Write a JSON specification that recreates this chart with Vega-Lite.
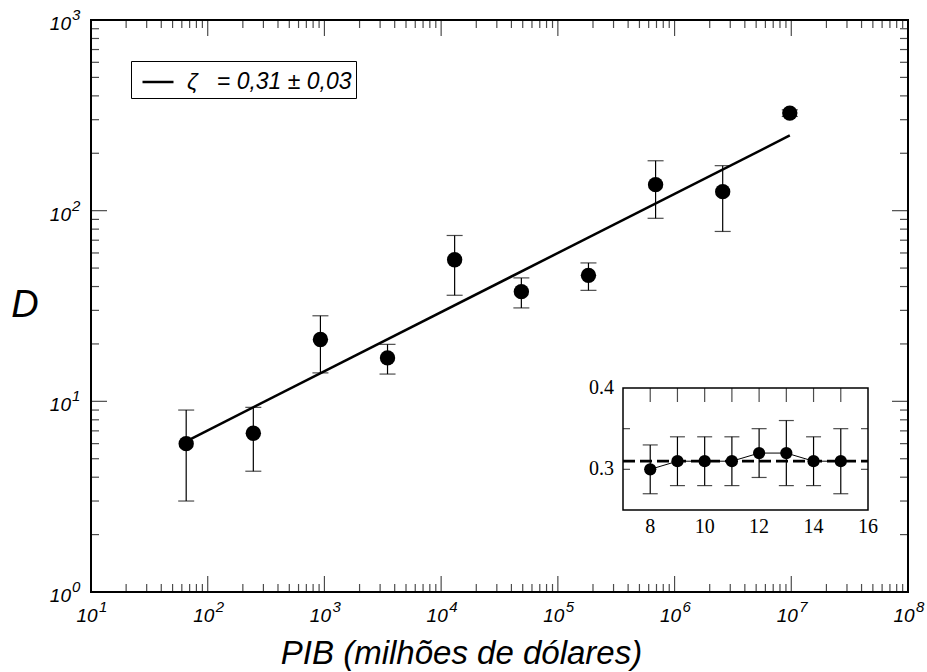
{
  "$schema": "https://vega.github.io/schema/vega-lite/v6.json",
  "width": 817,
  "height": 572,
  "autosize": "none",
  "padding": {"left": 91, "top": 20, "right": 19, "bottom": 80},
  "background": "white",
  "title": {
    "text": "PIB (milhões de dólares)", "orient": "bottom", "anchor": "middle", "frame": "group",
    "font": "Liberation Sans", "fontStyle": "italic", "fontWeight": "normal", "fontSize": 33, "color": "black",
    "baseline": "middle", "offset": 28, "dx": -38
  },
  "config": {
    "view": {"stroke": "black", "strokeWidth": 2}
  },
  "datasets": {
    "main": [
      {"x": 65.4, "y": 6.0, "lo": 3.0, "hi": 9.0},
      {"x": 245.9, "y": 6.8, "lo": 4.3, "hi": 9.3},
      {"x": 924, "y": 21.1, "lo": 14.1, "hi": 28.1},
      {"x": 3472, "y": 16.9, "lo": 13.9, "hi": 19.9},
      {"x": 13050, "y": 55.3, "lo": 36.0, "hi": 74.1},
      {"x": 48670, "y": 37.6, "lo": 30.9, "hi": 44.4},
      {"x": 182900, "y": 45.8, "lo": 38.2, "hi": 53.2},
      {"x": 687600, "y": 136.9, "lo": 91.2, "hi": 182.7},
      {"x": 2584000, "y": 125.8, "lo": 77.8, "hi": 172.2},
      {"x": 9710000, "y": 325, "lo": 312, "hi": 338}
    ],
    "fit": [
      {"x": 65.4, "y": 6.17, "lbl": "ζ\u00a0\u00a0\u00a0= 0,31 ± 0,03"},
      {"x": 9710000, "y": 248, "lbl": "ζ\u00a0\u00a0\u00a0= 0,31 ± 0,03"}
    ],
    "xmaj": [{"v": 10}, {"v": 100}, {"v": 1000}, {"v": 10000}, {"v": 100000}, {"v": 1000000}, {"v": 10000000}, {"v": 100000000}],
    "xmin": [
      {"v": 20}, {"v": 30}, {"v": 40}, {"v": 50}, {"v": 60}, {"v": 70}, {"v": 80}, {"v": 90},
      {"v": 200}, {"v": 300}, {"v": 400}, {"v": 500}, {"v": 600}, {"v": 700}, {"v": 800}, {"v": 900},
      {"v": 2000}, {"v": 3000}, {"v": 4000}, {"v": 5000}, {"v": 6000}, {"v": 7000}, {"v": 8000}, {"v": 9000},
      {"v": 20000}, {"v": 30000}, {"v": 40000}, {"v": 50000}, {"v": 60000}, {"v": 70000}, {"v": 80000}, {"v": 90000},
      {"v": 200000}, {"v": 300000}, {"v": 400000}, {"v": 500000}, {"v": 600000}, {"v": 700000}, {"v": 800000}, {"v": 900000},
      {"v": 2000000}, {"v": 3000000}, {"v": 4000000}, {"v": 5000000}, {"v": 6000000}, {"v": 7000000}, {"v": 8000000}, {"v": 9000000},
      {"v": 20000000}, {"v": 30000000}, {"v": 40000000}, {"v": 50000000}, {"v": 60000000}, {"v": 70000000}, {"v": 80000000}, {"v": 90000000}
    ],
    "ymaj": [{"v": 1}, {"v": 10}, {"v": 100}, {"v": 1000}],
    "ymin": [
      {"v": 2}, {"v": 3}, {"v": 4}, {"v": 5}, {"v": 6}, {"v": 7}, {"v": 8}, {"v": 9},
      {"v": 20}, {"v": 30}, {"v": 40}, {"v": 50}, {"v": 60}, {"v": 70}, {"v": 80}, {"v": 90},
      {"v": 200}, {"v": 300}, {"v": 400}, {"v": 500}, {"v": 600}, {"v": 700}, {"v": 800}, {"v": 900}
    ],
    "expx": [
      {"tx": 10, "e": "1"}, {"tx": 100, "e": "2"}, {"tx": 1000, "e": "3"}, {"tx": 10000, "e": "4"},
      {"tx": 100000, "e": "5"}, {"tx": 1000000, "e": "6"}, {"tx": 10000000, "e": "7"}, {"tx": 100000000, "e": "8"}
    ],
    "expy": [{"ty": 1, "e": "0"}, {"ty": 10, "e": "1"}, {"ty": 100, "e": "2"}, {"ty": 1000, "e": "3"}],
    "ytitle": [{"t": "D", "tx": 10, "ty": 31.6228}],
    "inset": [
      {"n": 8, "z": 0.30, "lo": 0.27, "hi": 0.33},
      {"n": 9, "z": 0.31, "lo": 0.28, "hi": 0.34},
      {"n": 10, "z": 0.31, "lo": 0.28, "hi": 0.34},
      {"n": 11, "z": 0.31, "lo": 0.28, "hi": 0.34},
      {"n": 12, "z": 0.32, "lo": 0.29, "hi": 0.35},
      {"n": 13, "z": 0.32, "lo": 0.28, "hi": 0.36},
      {"n": 14, "z": 0.31, "lo": 0.28, "hi": 0.34},
      {"n": 15, "z": 0.31, "lo": 0.27, "hi": 0.35}
    ],
    "box": [{"x1": 7, "x2": 16, "y1": 0.25, "y2": 0.4}],
    "dash": [{"x1": 7, "x2": 16, "z": 0.31}],
    "itop": [{"n": 8}, {"n": 9}, {"n": 10}, {"n": 11}, {"n": 12}, {"n": 13}, {"n": 14}, {"n": 15}],
    "iside": [{"z": 0.3}, {"z": 0.35}],
    "ixlab": [{"n": 8, "t": "8"}, {"n": 10, "t": "10"}, {"n": 12, "t": "12"}, {"n": 14, "t": "14"}, {"n": 16, "t": "16"}],
    "iylab": [{"z": 0.3, "t": "0.3"}, {"z": 0.4, "t": "0.4"}]
  },
  "resolve": {"scale": {"x": "independent", "y": "independent"}},
  "layer": [
    {
      "layer": [
        {
          "data": {"name": "main"},
          "mark": {"type": "rule", "color": "black", "strokeWidth": 1.2},
          "encoding": {
            "x": {"field": "x", "type": "quantitative", "scale": {"type": "log", "domain": [10, 100000000], "nice": false}, "axis": null},
            "y": {"field": "lo", "type": "quantitative", "scale": {"type": "log", "domain": [1, 1000], "nice": false}, "axis": null},
            "y2": {"field": "hi"}
          }
        },
        {
          "data": {"name": "main"},
          "mark": {"type": "tick", "orient": "horizontal", "color": "black", "size": 16, "thickness": 1.2},
          "encoding": {
            "x": {"field": "x", "type": "quantitative", "scale": {"type": "log", "domain": [10, 100000000], "nice": false}, "axis": null},
            "y": {"field": "lo", "type": "quantitative", "scale": {"type": "log", "domain": [1, 1000], "nice": false}, "axis": null}
          }
        },
        {
          "data": {"name": "main"},
          "mark": {"type": "tick", "orient": "horizontal", "color": "black", "size": 16, "thickness": 1.2},
          "encoding": {
            "x": {"field": "x", "type": "quantitative", "scale": {"type": "log", "domain": [10, 100000000], "nice": false}, "axis": null},
            "y": {"field": "hi", "type": "quantitative", "scale": {"type": "log", "domain": [1, 1000], "nice": false}, "axis": null}
          }
        },
        {
          "data": {"name": "xmaj"},
          "mark": {"type": "tick", "orient": "vertical", "color": "black", "size": 16, "thickness": 1.2, "yOffset": -8},
          "encoding": {
            "x": {"field": "v", "type": "quantitative", "scale": {"type": "log", "domain": [10, 100000000], "nice": false}, "axis": null},
            "y": {"datum": 1, "type": "quantitative", "scale": {"type": "log", "domain": [1, 1000], "nice": false}, "axis": null}
          }
        },
        {
          "data": {"name": "xmaj"},
          "mark": {"type": "tick", "orient": "vertical", "color": "black", "size": 16, "thickness": 1.2, "yOffset": 8},
          "encoding": {
            "x": {"field": "v", "type": "quantitative", "scale": {"type": "log", "domain": [10, 100000000], "nice": false}, "axis": null},
            "y": {"datum": 1000, "type": "quantitative", "scale": {"type": "log", "domain": [1, 1000], "nice": false}, "axis": null}
          }
        },
        {
          "data": {"name": "xmin"},
          "mark": {"type": "tick", "orient": "vertical", "color": "black", "size": 8, "thickness": 1.2, "yOffset": -4},
          "encoding": {
            "x": {"field": "v", "type": "quantitative", "scale": {"type": "log", "domain": [10, 100000000], "nice": false}, "axis": null},
            "y": {"datum": 1, "type": "quantitative", "scale": {"type": "log", "domain": [1, 1000], "nice": false}, "axis": null}
          }
        },
        {
          "data": {"name": "xmin"},
          "mark": {"type": "tick", "orient": "vertical", "color": "black", "size": 8, "thickness": 1.2, "yOffset": 4},
          "encoding": {
            "x": {"field": "v", "type": "quantitative", "scale": {"type": "log", "domain": [10, 100000000], "nice": false}, "axis": null},
            "y": {"datum": 1000, "type": "quantitative", "scale": {"type": "log", "domain": [1, 1000], "nice": false}, "axis": null}
          }
        },
        {
          "data": {"name": "ymaj"},
          "mark": {"type": "tick", "orient": "horizontal", "color": "black", "size": 16, "thickness": 1.2, "xOffset": 8},
          "encoding": {
            "x": {"datum": 10, "type": "quantitative", "scale": {"type": "log", "domain": [10, 100000000], "nice": false}, "axis": null},
            "y": {"field": "v", "type": "quantitative", "scale": {"type": "log", "domain": [1, 1000], "nice": false}, "axis": null}
          }
        },
        {
          "data": {"name": "ymaj"},
          "mark": {"type": "tick", "orient": "horizontal", "color": "black", "size": 16, "thickness": 1.2, "xOffset": -8},
          "encoding": {
            "x": {"datum": 100000000, "type": "quantitative", "scale": {"type": "log", "domain": [10, 100000000], "nice": false}, "axis": null},
            "y": {"field": "v", "type": "quantitative", "scale": {"type": "log", "domain": [1, 1000], "nice": false}, "axis": null}
          }
        },
        {
          "data": {"name": "ymin"},
          "mark": {"type": "tick", "orient": "horizontal", "color": "black", "size": 8, "thickness": 1.2, "xOffset": 4},
          "encoding": {
            "x": {"datum": 10, "type": "quantitative", "scale": {"type": "log", "domain": [10, 100000000], "nice": false}, "axis": null},
            "y": {"field": "v", "type": "quantitative", "scale": {"type": "log", "domain": [1, 1000], "nice": false}, "axis": null}
          }
        },
        {
          "data": {"name": "ymin"},
          "mark": {"type": "tick", "orient": "horizontal", "color": "black", "size": 8, "thickness": 1.2, "xOffset": -4},
          "encoding": {
            "x": {"datum": 100000000, "type": "quantitative", "scale": {"type": "log", "domain": [10, 100000000], "nice": false}, "axis": null},
            "y": {"field": "v", "type": "quantitative", "scale": {"type": "log", "domain": [1, 1000], "nice": false}, "axis": null}
          }
        },
        {
          "data": {"name": "fit"},
          "mark": {"type": "line", "strokeWidth": 2.5},
          "encoding": {
            "x": {"field": "x", "type": "quantitative", "scale": {"type": "log", "domain": [10, 100000000], "nice": false}, "axis": null},
            "y": {"field": "y", "type": "quantitative", "scale": {"type": "log", "domain": [1, 1000], "nice": false}, "axis": null},
            "color": {
              "field": "lbl", "type": "nominal",
              "scale": {"range": ["black"]},
              "legend": {
                "orient": "none", "legendX": 40, "legendY": 41, "title": null,
                "symbolType": "stroke", "symbolSize": 961, "symbolStrokeWidth": 2.5, "symbolStrokeColor": "black", "symbolOffset": 6,
                "labelFont": "Liberation Sans", "labelFontStyle": "italic", "labelFontSize": 23, "labelColor": "black",
                "labelOffset": 12, "labelLimit": 500, "padding": 4, "strokeColor": "black", "fillColor": "white"
              }
            }
          }
        },
        {
          "data": {"name": "main"},
          "mark": {"type": "point", "filled": true, "color": "black", "opacity": 1, "size": 236},
          "encoding": {
            "x": {"field": "x", "type": "quantitative", "scale": {"type": "log", "domain": [10, 100000000], "nice": false}, "axis": null},
            "y": {"field": "y", "type": "quantitative", "scale": {"type": "log", "domain": [1, 1000], "nice": false}, "axis": null}
          }
        },
        {
          "data": {"name": "xmaj"},
          "mark": {"type": "text", "text": "10", "font": "Liberation Sans", "fontStyle": "italic", "fontSize": 19, "align": "center", "baseline": "top", "dx": -4, "dy": 15, "color": "black"},
          "encoding": {
            "x": {"field": "v", "type": "quantitative", "scale": {"type": "log", "domain": [10, 100000000], "nice": false}, "axis": null},
            "y": {"datum": 1, "type": "quantitative", "scale": {"type": "log", "domain": [1, 1000], "nice": false}, "axis": null}
          }
        },
        {
          "data": {"name": "ymaj"},
          "mark": {"type": "text", "text": "10", "font": "Liberation Sans", "fontStyle": "italic", "fontSize": 19, "align": "right", "baseline": "middle", "dx": -20, "dy": 4, "color": "black"},
          "encoding": {
            "x": {"datum": 10, "type": "quantitative", "scale": {"type": "log", "domain": [10, 100000000], "nice": false}, "axis": null},
            "y": {"field": "v", "type": "quantitative", "scale": {"type": "log", "domain": [1, 1000], "nice": false}, "axis": null}
          }
        },
        {
          "data": {"name": "expx"},
          "mark": {"type": "text", "font": "Liberation Sans", "fontStyle": "italic", "fontSize": 15, "align": "left", "baseline": "middle", "dx": 8, "dy": 15, "color": "black"},
          "encoding": {
            "x": {"field": "tx", "type": "quantitative", "scale": {"type": "log", "domain": [10, 100000000], "nice": false}, "axis": null},
            "y": {"datum": 1, "type": "quantitative", "scale": {"type": "log", "domain": [1, 1000], "nice": false}, "axis": null},
            "text": {"field": "e"}
          }
        },
        {
          "data": {"name": "expy"},
          "mark": {"type": "text", "font": "Liberation Sans", "fontStyle": "italic", "fontSize": 15, "align": "left", "baseline": "middle", "dx": -19, "dy": -5, "color": "black"},
          "encoding": {
            "x": {"datum": 10, "type": "quantitative", "scale": {"type": "log", "domain": [10, 100000000], "nice": false}, "axis": null},
            "y": {"field": "ty", "type": "quantitative", "scale": {"type": "log", "domain": [1, 1000], "nice": false}, "axis": null},
            "text": {"field": "e"}
          }
        },
        {
          "data": {"name": "ytitle"},
          "mark": {"type": "text", "font": "Liberation Sans", "fontStyle": "italic", "fontSize": 38, "align": "center", "baseline": "middle", "dx": -66, "color": "black"},
          "encoding": {
            "x": {"field": "tx", "type": "quantitative", "scale": {"type": "log", "domain": [10, 100000000], "nice": false}, "axis": null},
            "y": {"field": "ty", "type": "quantitative", "scale": {"type": "log", "domain": [1, 1000], "nice": false}, "axis": null},
            "text": {"field": "t"}
          }
        }
      ]
    },
    {
      "layer": [
        {
          "data": {"name": "box"},
          "mark": {"type": "rect", "fill": "white", "stroke": "black", "strokeWidth": 1.5},
          "encoding": {
            "x": {"field": "x1", "type": "quantitative", "scale": {"domain": [7, 16], "range": [532, 777], "nice": false, "zero": false}, "axis": null},
            "x2": {"field": "x2"},
            "y": {"field": "y1", "type": "quantitative", "scale": {"domain": [0.25, 0.4], "range": [490, 368], "nice": false, "zero": false}, "axis": null},
            "y2": {"field": "y2"}
          }
        },
        {
          "data": {"name": "itop"},
          "mark": {"type": "tick", "orient": "vertical", "color": "black", "size": 14, "thickness": 1.2, "yOffset": 7},
          "encoding": {
            "x": {"field": "n", "type": "quantitative", "scale": {"domain": [7, 16], "range": [532, 777], "nice": false, "zero": false}, "axis": null},
            "y": {"datum": 0.4, "type": "quantitative", "scale": {"domain": [0.25, 0.4], "range": [490, 368], "nice": false, "zero": false}, "axis": null}
          }
        },
        {
          "data": {"name": "iside"},
          "mark": {"type": "tick", "orient": "horizontal", "color": "black", "size": 7, "thickness": 1.2, "xOffset": 3.5},
          "encoding": {
            "x": {"datum": 7, "type": "quantitative", "scale": {"domain": [7, 16], "range": [532, 777], "nice": false, "zero": false}, "axis": null},
            "y": {"field": "z", "type": "quantitative", "scale": {"domain": [0.25, 0.4], "range": [490, 368], "nice": false, "zero": false}, "axis": null}
          }
        },
        {
          "data": {"name": "iside"},
          "mark": {"type": "tick", "orient": "horizontal", "color": "black", "size": 7, "thickness": 1.2, "xOffset": -3.5},
          "encoding": {
            "x": {"datum": 16, "type": "quantitative", "scale": {"domain": [7, 16], "range": [532, 777], "nice": false, "zero": false}, "axis": null},
            "y": {"field": "z", "type": "quantitative", "scale": {"domain": [0.25, 0.4], "range": [490, 368], "nice": false, "zero": false}, "axis": null}
          }
        },
        {
          "data": {"name": "dash"},
          "mark": {"type": "rule", "color": "black", "strokeWidth": 2.7, "strokeDash": [12, 5]},
          "encoding": {
            "x": {"field": "x1", "type": "quantitative", "scale": {"domain": [7, 16], "range": [532, 777], "nice": false, "zero": false}, "axis": null},
            "x2": {"field": "x2"},
            "y": {"field": "z", "type": "quantitative", "scale": {"domain": [0.25, 0.4], "range": [490, 368], "nice": false, "zero": false}, "axis": null}
          }
        },
        {
          "data": {"name": "inset"},
          "mark": {"type": "rule", "color": "black", "strokeWidth": 1.2},
          "encoding": {
            "x": {"field": "n", "type": "quantitative", "scale": {"domain": [7, 16], "range": [532, 777], "nice": false, "zero": false}, "axis": null},
            "y": {"field": "lo", "type": "quantitative", "scale": {"domain": [0.25, 0.4], "range": [490, 368], "nice": false, "zero": false}, "axis": null},
            "y2": {"field": "hi"}
          }
        },
        {
          "data": {"name": "inset"},
          "mark": {"type": "tick", "orient": "horizontal", "color": "black", "size": 15, "thickness": 1.2},
          "encoding": {
            "x": {"field": "n", "type": "quantitative", "scale": {"domain": [7, 16], "range": [532, 777], "nice": false, "zero": false}, "axis": null},
            "y": {"field": "lo", "type": "quantitative", "scale": {"domain": [0.25, 0.4], "range": [490, 368], "nice": false, "zero": false}, "axis": null}
          }
        },
        {
          "data": {"name": "inset"},
          "mark": {"type": "tick", "orient": "horizontal", "color": "black", "size": 15, "thickness": 1.2},
          "encoding": {
            "x": {"field": "n", "type": "quantitative", "scale": {"domain": [7, 16], "range": [532, 777], "nice": false, "zero": false}, "axis": null},
            "y": {"field": "hi", "type": "quantitative", "scale": {"domain": [0.25, 0.4], "range": [490, 368], "nice": false, "zero": false}, "axis": null}
          }
        },
        {
          "data": {"name": "inset"},
          "mark": {"type": "line", "color": "black", "strokeWidth": 1},
          "encoding": {
            "x": {"field": "n", "type": "quantitative", "scale": {"domain": [7, 16], "range": [532, 777], "nice": false, "zero": false}, "axis": null},
            "y": {"field": "z", "type": "quantitative", "scale": {"domain": [0.25, 0.4], "range": [490, 368], "nice": false, "zero": false}, "axis": null}
          }
        },
        {
          "data": {"name": "inset"},
          "mark": {"type": "point", "filled": true, "color": "black", "opacity": 1, "size": 150},
          "encoding": {
            "x": {"field": "n", "type": "quantitative", "scale": {"domain": [7, 16], "range": [532, 777], "nice": false, "zero": false}, "axis": null},
            "y": {"field": "z", "type": "quantitative", "scale": {"domain": [0.25, 0.4], "range": [490, 368], "nice": false, "zero": false}, "axis": null}
          }
        },
        {
          "data": {"name": "ixlab"},
          "mark": {"type": "text", "font": "Liberation Serif", "fontSize": 20, "align": "center", "baseline": "middle", "dy": 17, "color": "black"},
          "encoding": {
            "x": {"field": "n", "type": "quantitative", "scale": {"domain": [7, 16], "range": [532, 777], "nice": false, "zero": false}, "axis": null},
            "y": {"datum": 0.25, "type": "quantitative", "scale": {"domain": [0.25, 0.4], "range": [490, 368], "nice": false, "zero": false}, "axis": null},
            "text": {"field": "t"}
          }
        },
        {
          "data": {"name": "iylab"},
          "mark": {"type": "text", "font": "Liberation Serif", "fontSize": 20, "align": "right", "baseline": "middle", "dx": -9, "color": "black"},
          "encoding": {
            "x": {"datum": 7, "type": "quantitative", "scale": {"domain": [7, 16], "range": [532, 777], "nice": false, "zero": false}, "axis": null},
            "y": {"field": "z", "type": "quantitative", "scale": {"domain": [0.25, 0.4], "range": [490, 368], "nice": false, "zero": false}, "axis": null},
            "text": {"field": "t"}
          }
        }
      ]
    }
  ]
}
